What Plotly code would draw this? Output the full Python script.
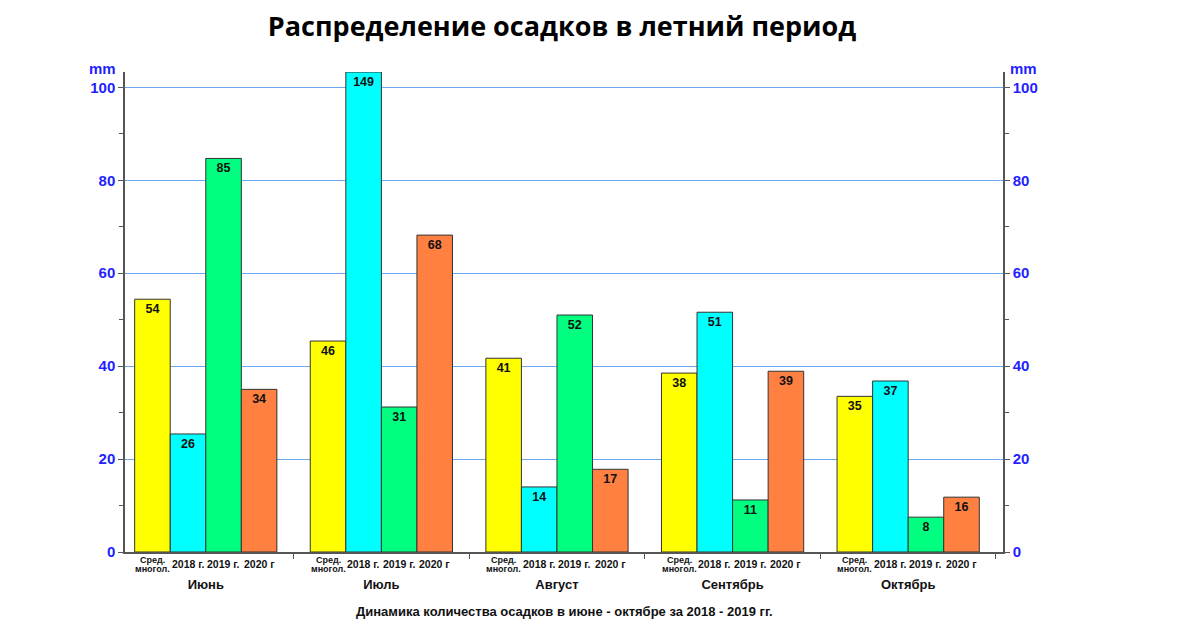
"""Summer precipitation distribution chart."""

import plotly.graph_objects as go

months = ["Июнь", "Июль", "Август", "Сентябрь", "Октябрь"]
series_names = ["Сред. многол.", "2018 г.", "2019 г.", "2020 г"]
sub_labels = [["Сред.", "многол."], ["2018 г."], ["2019 г."], ["2020 г"]]
colors = ["#ffff00", "#00ffff", "#00ff80", "#ff8040"]

# bar heights as drawn (July 2018 is cut off at the top of the axis)
heights = [
    [54.4, 45.4, 41.7, 38.5, 33.5],
    [25.4, 103.3, 14.0, 51.6, 36.8],
    [84.7, 31.2, 51.0, 11.2, 7.5],
    [35.0, 68.2, 17.8, 38.9, 11.8],
]
# value labels printed on the bars
labels = [
    [54, 46, 41, 38, 35],
    [26, 149, 14, 51, 37],
    [85, 31, 52, 11, 8],
    [34, 68, 17, 39, 16],
]

y_ticks = [0, 20, 40, 60, 80, 100]
blue = "#1f1fff"
font = "Liberation Sans"

# the page has an 8px body margin, so the figure is 8px smaller than the window
W, H = 1192, 621
L, R, T, B = 117, 197, 64, 77

fig = go.Figure()
for name, h, lab, col in zip(series_names, heights, labels, colors):
    fig.add_trace(
        go.Bar(
            name=name,
            x=months,
            y=h,
            text=[str(v) for v in lab],
            textposition="inside",
            insidetextanchor="end",
            textangle=0,
            textfont=dict(family=font, size=12.5, color="#111111", weight="bold"),
            marker=dict(color=col, line=dict(color="#333333", width=1)),
        )
    )

# invisible trace so the right-hand axis gets its tick labels
fig.add_trace(
    go.Scatter(x=months, y=heights[0], yaxis="y2", mode="markers",
               marker=dict(opacity=0), hoverinfo="skip", showlegend=False)
)

# sub labels under each bar
bar_px = (W - L - R) / len(months) * 0.81 / len(series_names)
for m in months:
    for j, lines in enumerate(sub_labels):
        shifts = [-8, -17] if len(lines) == 2 else [-12]
        for line, dy in zip(lines, shifts):
            fig.add_annotation(
                x=m, xref="x", y=0, yref="paper",
                xshift=(j - 1.5) * bar_px, yshift=dy,
                xanchor="center", yanchor="middle", showarrow=False,
                text=line,
                font=dict(family=font, size=9 if len(lines) == 2 else 10.5,
                          color="#111111", weight="bold"),
            )

mm_font = dict(family=font, size=15, color=blue, weight="bold")
fig.add_annotation(x=0, xref="paper", xshift=-23, y=1, yref="paper", yshift=4,
                   xanchor="center", yanchor="middle", text="mm", showarrow=False, font=mm_font)
fig.add_annotation(x=1, xref="paper", xshift=20, y=1, yref="paper", yshift=4,
                   xanchor="center", yanchor="middle", text="mm", showarrow=False, font=mm_font)
fig.add_annotation(x=0.5, xref="paper", y=0, yref="paper", yshift=-59,
                   xanchor="center", yanchor="middle", showarrow=False,
                   text="Динамика количества осадков в июне - октябре за 2018 - 2019 гг.",
                   font=dict(family=font, size=13, color="#111111", weight="bold"))

axis_common = dict(
    range=[0, 103.3],
    tickvals=y_ticks,
    ticks="outside",
    ticklen=5,
    tickcolor="#555555",
    showline=True,
    linecolor="#555555",
    linewidth=1.5,
    tickfont=dict(family=font, size=15, color=blue, weight="bold"),
    minor=dict(dtick=10, ticks="outside", ticklen=4, tickcolor="#555555", showgrid=False),
    zeroline=False,
)

fig.update_layout(
    width=W,
    height=H,
    paper_bgcolor="white",
    plot_bgcolor="white",
    barmode="group",
    bargap=0.19,
    bargroupgap=0,
    showlegend=False,
    margin=dict(l=L, r=R, t=T, b=B),
    title=dict(
        text="<b>Распределение осадков в летний период</b>",
        x=554 / W, xanchor="center", y=1 - 19 / H, yanchor="middle",
        font=dict(family="Open Sans", size=27, color="#000000"),
    ),
    xaxis=dict(
        range=[-0.46, 4.54],
        showline=True, linecolor="#555555", linewidth=1.5,
        ticks="outside", tickson="boundaries", ticklen=5, tickcolor="#555555",
        ticklabelstandoff=20,
        tickfont=dict(family=font, size=13, color="#111111", weight="bold"),
    ),
    yaxis=dict(showgrid=True, gridcolor="#6aaaf0", gridwidth=1, **axis_common),
    yaxis2=dict(overlaying="y", side="right", showgrid=False, **axis_common),
)

fig.write_html("out.html")
